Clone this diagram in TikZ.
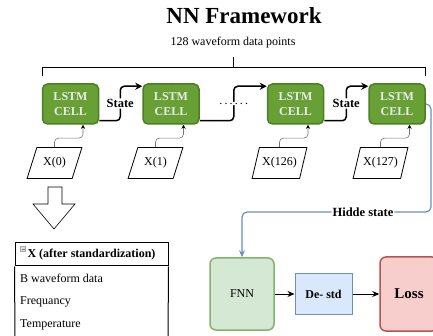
\documentclass[tikz,border=0pt]{standalone}
\usepackage{fontspec}
\setmainfont{Liberation Serif}
\usetikzlibrary{shapes.geometric, arrows.meta}

\definecolor{cellfill}{HTML}{68A036}
\definecolor{celldraw}{HTML}{4B7F22}
\definecolor{fnnfill}{HTML}{D5E8D4}
\definecolor{fnndraw}{HTML}{82B366}
\definecolor{stdfill}{HTML}{DAE8FC}
\definecolor{stddraw}{HTML}{6C8EBF}
\definecolor{lossfill}{HTML}{F8CECC}
\definecolor{lossdraw}{HTML}{B85450}

\begin{document}
\begin{tikzpicture}[x=1pt, y=-1pt,
    cell/.style={draw=celldraw, fill=cellfill, line width=1.5pt, rounded corners=5pt,
        minimum width=56pt, minimum height=40pt, text=white!92!black, align=center,
        font=\fontsize{12}{15}\selectfont\bfseries},
    xin/.style={draw, thick, trapezium, trapezium left angle=60, trapezium right angle=120,
        trapezium stretches=true, minimum width=55pt, minimum height=31pt, inner sep=0pt,
        font=\fontsize{12}{14}\selectfont},
    link/.style={line width=1.5pt, rounded corners=4pt, -{Stealth[length=7pt, width=7pt]}},
    feed/.style={draw=black!55, line width=0.6pt, rounded corners=4pt, -{Stealth[length=4pt, width=4pt, black]}},
    onlink/.style={fill=white, inner sep=1pt, font=\fontsize{12.5}{14}\selectfont\bfseries},
    box/.style={line width=1.5pt, rounded corners=6pt, font=\fontsize{12}{14}\selectfont},
    flow/.style={line width=1pt, -{Stealth[length=7pt, width=6pt]}},
    row/.style={anchor=west, inner sep=0pt, font=\fontsize{12}{14}\selectfont}
]
    \useasboundingbox (0,0) rectangle (433,336);

    % Title and brace over the sequence
    \node[font=\fontsize{23}{26}\selectfont\bfseries] (title) at (244,16) {NN Framework};
    \node[font=\fontsize{12}{14}\selectfont] (npts) at (233,43) {128 waveform data points};
    \draw[thick] (42,76) -- (42,67) -- (425,67) -- (425,76);
    \draw[thick] (233,67) -- (233,57);

    % LSTM cells
    \node[cell] (c0) at (70.5,104) {LSTM\\CELL};
    \node[cell] (c1) at (171,104) {LSTM\\CELL};
    \node[cell] (c2) at (295.5,104) {LSTM\\CELL};
    \node[cell] (c3) at (397,104) {LSTM\\CELL};

    % inputs
    \node[xin] (x0) at (54.5,163) {X(0)};
    \node[xin] (x1) at (155.5,163) {X(1)};
    \node[xin] (x2) at (279.5,163) {X(126)};
    \node[xin] (x3) at (380.5,163) {X(127)};
    \draw[feed] (x0.north) -- ++(0,-9) -| ([xshift=12.5pt]c0.south);
    \draw[feed] (x1.north) -- ++(0,-9) -| ([xshift=12.5pt]c1.south);
    \draw[feed] (x2.north) -- ++(0,-9) -| ([xshift=12.5pt]c2.south);
    \draw[feed] (x3.north) -- ++(0,-9) -| ([xshift=12.5pt]c3.south);

    % state passed along
    \draw[link] ([yshift=4pt]c0.south east) -- ++(21,0) |- ([yshift=-3pt]c1.north west)
        node[pos=0.25, onlink] {State};
    \draw[link] ([yshift=4pt]c1.south east) -- ++(34,0) |- ([yshift=-3pt]c2.north west)
        node[pos=0.25, onlink, font=\fontsize{12}{14}\selectfont\addfontfeatures{LetterSpace=18}] {......};
    \draw[link] ([yshift=4pt]c2.south east) -- ++(22,0) |- ([yshift=-3pt]c3.north west)
        node[pos=0.25, onlink] {State};

    % hollow arrow down to the input table
    \draw[semithick] (48,187) -- (62,187) -- (62,204) -- (75,204) -- (54,229)
        -- (33,204) -- (48,204) -- cycle;

    % input table
    \node[draw, line width=1pt, minimum width=153pt, minimum height=23pt,
        font=\fontsize{12}{14}\selectfont\bfseries] (hdr) at (91.5,254.5) {X (after standardization)};
    \draw[gray!70, fill=gray!25] (20.5,246.5) rectangle (25.5,251);
    \draw[gray] (21.5,248.8) -- (24.5,248.8);
    \draw[line width=1pt] (hdr.south west) -- (15,338);
    \draw[line width=1pt] (hdr.south east) -- (168,338);
    \node[row] (r1) at (20,278) {B waveform data};
    \node[row] (r2) at (20,302) {Frequancy};
    \node[row] (r3) at (20,325) {Temperature};

    % output head
    \node[box, draw=fnndraw, fill=fnnfill, minimum width=64pt, minimum height=72pt] (fnn) at (242,294) {FNN};
    \node[box, draw=stddraw, fill=stdfill, rounded corners=0pt, line width=1pt, minimum width=57pt,
        minimum height=40pt, font=\fontsize{12}{14}\selectfont\bfseries] (std) at (323.5,294) {De- std};
    \node[box, draw=lossdraw, fill=lossfill, minimum width=58pt, minimum height=74pt,
        font=\fontsize{15}{17}\selectfont\bfseries] (loss) at (409,294) {Loss};
    \draw[flow] (fnn) -- (std);
    \draw[flow] (std) -- (loss);

    % hidden state to the FNN
    \coordinate (bend) at (431,212);
    \draw[stddraw, line width=1.2pt, rounded corners=5pt, -{Stealth[length=7pt, width=6pt]}]
        (c3.east) -| (bend) -| (fnn.north)
        node[pos=0.18, fill=white, inner sep=1pt, text=black,
            font=\fontsize{12.5}{14}\selectfont\bfseries] {Hidde state};
\end{tikzpicture}
\end{document}
